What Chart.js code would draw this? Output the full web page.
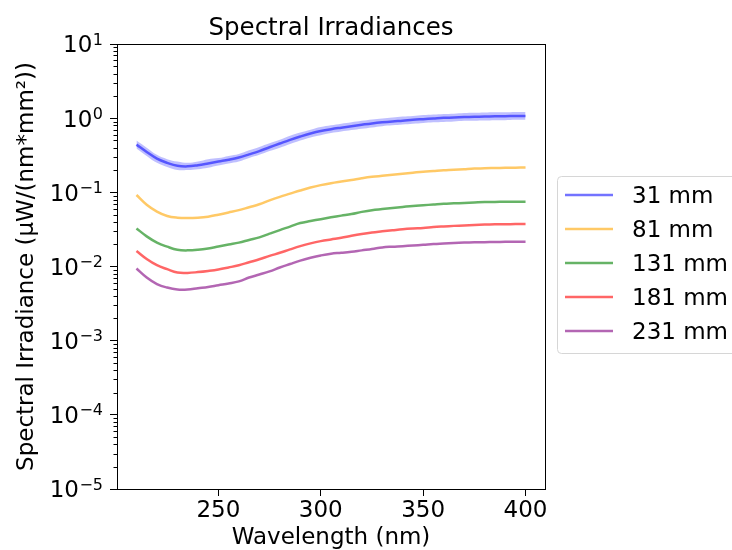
<!DOCTYPE html>
<html>
<head>
<meta charset="utf-8">
<script src="https://cdn.jsdelivr.net/npm/chart.js@4.4.1/dist/chart.umd.min.js"></script>
<style>
  html, body { margin: 0; padding: 0; background: #fff; }
  #wrap { width: 732px; height: 550px; position: relative; }
</style>
</head>
<body>
<div id="wrap"><canvas id="c" width="732" height="550"></canvas></div>
<script>
// ---- data ----
const wavelengths = [210,215,220,225,230,235,240,245,250,255,260,265,270,275,280,285,290,295,300,305,310,315,320,325,330,335,340,345,350,355,360,365,370,375,380,385,390,395,400];

const labels = ['31 mm', '81 mm', '131 mm', '181 mm', '231 mm'];
const chartTitle = 'Spectral Irradiances';

const irr31 = [0.44,0.35,0.285,0.25,0.228,0.224,0.232,0.245,0.26,0.275,0.295,0.325,0.36,0.405,0.455,0.51,0.565,0.62,0.67,0.71,0.745,0.78,0.815,0.85,0.88,0.905,0.925,0.95,0.97,0.99,1.01,1.02,1.035,1.045,1.05,1.06,1.065,1.07,1.07];
const irr31Upper = [0.50,0.40,0.32,0.28,0.26,0.25,0.26,0.28,0.29,0.31,0.33,0.37,0.41,0.46,0.51,0.58,0.64,0.70,0.76,0.80,0.84,0.88,0.92,0.96,0.99,1.02,1.05,1.07,1.10,1.12,1.14,1.15,1.17,1.18,1.19,1.20,1.20,1.21,1.21];
const irr31Lower = [0.39,0.31,0.25,0.22,0.20,0.20,0.205,0.215,0.23,0.245,0.26,0.29,0.32,0.36,0.40,0.45,0.50,0.55,0.59,0.63,0.66,0.69,0.72,0.75,0.78,0.80,0.82,0.84,0.86,0.88,0.89,0.90,0.92,0.925,0.93,0.94,0.94,0.95,0.95];
const irr81 = [0.092,0.068,0.055,0.048,0.0455,0.045,0.0455,0.047,0.050,0.0535,0.0575,0.063,0.069,0.078,0.087,0.096,0.106,0.116,0.125,0.133,0.14,0.147,0.155,0.162,0.167,0.172,0.178,0.184,0.19,0.194,0.198,0.201,0.205,0.209,0.212,0.213,0.214,0.215,0.216];
const irr131 = [0.0326,0.0255,0.021,0.0185,0.0168,0.0165,0.0168,0.0175,0.0186,0.0198,0.021,0.0228,0.0247,0.0277,0.031,0.0345,0.0385,0.041,0.0435,0.046,0.0485,0.051,0.0545,0.0575,0.0595,0.0615,0.0635,0.0655,0.067,0.0685,0.07,0.071,0.072,0.073,0.074,0.0743,0.0745,0.0745,0.0745];
const irr181 = [0.0162,0.0126,0.0104,0.0092,0.0083,0.0082,0.0084,0.0087,0.0091,0.0097,0.0104,0.0114,0.0125,0.0139,0.0153,0.017,0.0188,0.0205,0.022,0.0232,0.0244,0.026,0.0275,0.0288,0.0298,0.0308,0.0318,0.0325,0.033,0.034,0.0347,0.0353,0.0358,0.0363,0.0367,0.037,0.0372,0.0373,0.0373];
const irr231 = [0.0094,0.0071,0.0058,0.0052,0.0049,0.0049,0.0051,0.0053,0.0056,0.0059,0.0063,0.0071,0.0078,0.0086,0.0097,0.0108,0.012,0.0131,0.0141,0.0149,0.0153,0.0158,0.0165,0.0172,0.0181,0.0185,0.0188,0.0192,0.0196,0.0201,0.0204,0.0207,0.021,0.0212,0.0213,0.0214,0.0215,0.0215,0.0215];

const xTickValues = [250, 300, 350, 400];
const yTickExponents = [-5, -4, -3, -2, -1, 0, 1];

// ---- build ----
const FONT = 'DejaVu Sans';
const FS = 23;
const series = [irr31, irr81, irr131, irr181, irr231];
const lineColors = ['rgba(0,0,255,0.55)','rgba(255,165,0,0.6)','rgba(0,128,0,0.6)','rgba(255,0,0,0.6)','rgba(128,0,128,0.6)'];

const pts = arr => arr.map((v, i) => ({x: wavelengths[i], y: v}));

const datasets = [
  { label: '_upper', data: pts(irr31Upper), borderWidth: 0, pointRadius: 0, fill: '+1', backgroundColor: 'rgba(0,0,255,0.25)', tension: 0.4, order: 10 },
  { label: '_lower', data: pts(irr31Lower), borderWidth: 0, pointRadius: 0, fill: false, tension: 0.4, order: 10 },
];
series.forEach((s, i) => {
  datasets.push({ label: labels[i], data: pts(s), borderColor: lineColors[i], borderWidth: 2.5, pointRadius: 0, fill: false, tension: 0.4, order: 5 - i });
});

const decor = {
  id: 'decor',
  afterDraw(chart) {
    const ctx = chart.ctx, a = chart.chartArea, ys = chart.scales.y;
    ctx.save();
    ctx.strokeStyle = '#000';
    ctx.lineWidth = 1;
    ctx.strokeRect(Math.round(a.left) + 0.5, Math.round(a.top) + 0.5, Math.round(a.right - a.left), Math.round(a.bottom - a.top));
    // title centred over the plot area
    ctx.fillStyle = '#000';
    ctx.font = '24.5px "' + FONT + '"';
    ctx.textAlign = 'center';
    ctx.textBaseline = 'alphabetic';
    ctx.fillText(chartTitle, (a.left + a.right) / 2, 34.5);
    // y minor ticks
    ctx.beginPath();
    for (let e = -5; e <= 0; e++) {
      for (let m = 2; m <= 9; m++) {
        const py = Math.round(ys.getPixelForValue(m * Math.pow(10, e))) + 0.5;
        ctx.moveTo(a.left, py);
        ctx.lineTo(a.left - 3.5, py);
      }
    }
    ctx.stroke();
    // y tick labels with superscripts
    yTickExponents.forEach(e => {
      const py = ys.getPixelForValue(Math.pow(10, e));
      const sup = e < 0 ? '\u2212' + (-e) : String(e);
      ctx.font = '16px "' + FONT + '"';
      const supW = ctx.measureText(sup).width;
      const right = 103;
      ctx.textAlign = 'right';
      ctx.fillText(sup, right, py + 0.5);
      ctx.font = FS + 'px "' + FONT + '"';
      ctx.fillText('10', right - supW - 0.5, py + 8.4);
    });
    // legend
    const lx = 557.5, ly = 176.5, lh = 177;
    ctx.strokeStyle = '#d6d6d6';
    ctx.lineWidth = 1;
    ctx.fillStyle = 'rgba(255,255,255,0.8)';
    ctx.beginPath();
    const r = 4, w = 200;
    ctx.moveTo(lx + r, ly); ctx.lineTo(lx + w, ly); ctx.lineTo(lx + w, ly + lh); ctx.lineTo(lx + r, ly + lh);
    ctx.arcTo(lx, ly + lh, lx, ly + lh - r, r); ctx.lineTo(lx, ly + r); ctx.arcTo(lx, ly, lx + r, ly, r);
    ctx.closePath(); ctx.fill(); ctx.stroke();
    ctx.font = FS + 'px "' + FONT + '"';
    ctx.textAlign = 'left';
    const shown = chart.data.datasets.filter(d => !d.label.startsWith('_'));
    shown.forEach((d, i) => {
      const y = 195 + i * 34;
      ctx.strokeStyle = d.borderColor;
      ctx.lineWidth = 2.5;
      ctx.beginPath(); ctx.moveTo(565, y); ctx.lineTo(613, y); ctx.stroke();
      ctx.fillStyle = '#000';
      ctx.fillText(d.label, 632, y + 8.4);
    });
    ctx.restore();
  }
};

new Chart(document.getElementById('c'), {
  type: 'line',
  data: { datasets },
  plugins: [decor],
  options: {
    responsive: false,
    animation: false,
    layout: { padding: { left: 0, right: 187, top: 44, bottom: 0 } },
    plugins: {
      legend: { display: false },
      tooltip: { enabled: false },
      title: { display: false }
    },
    scales: {
      x: {
        type: 'linear', min: 200.5, max: 409.5,
        afterBuildTicks: s => { s.ticks = xTickValues.map(v => ({ value: v })); },
        afterFit: s => { s.height = 61; },
        ticks: { color: '#000', font: { family: FONT, size: FS }, padding: 1, maxRotation: 0, callback: v => String(v) },
        grid: { drawOnChartArea: false, drawTicks: true, tickLength: 7, color: '#000', tickWidth: 1 },
        border: { display: true, color: '#000', width: 1 },
        title: { display: true, text: 'Wavelength (nm)', color: '#000', font: { family: FONT, size: FS, lineHeight: 1 }, padding: { top: 0, bottom: 0 } }
      },
      y: {
        type: 'logarithmic', min: 1e-5, max: 10,
        afterBuildTicks: s => { s.ticks = yTickExponents.map(e => ({ value: Math.pow(10, e) })); },
        afterFit: s => { s.width = 117; },
        ticks: { color: '#000', font: { family: FONT, size: FS }, padding: 4, callback: () => '' },
        grid: { drawOnChartArea: false, drawTicks: true, tickLength: 7, color: '#000', tickWidth: 1 },
        border: { display: true, color: '#000', width: 1 },
        title: { display: true, text: 'Spectral Irradiance (\u03BCW/(nm*mm\u00B2))', color: '#000', font: { family: FONT, size: FS, lineHeight: 1.2 }, padding: { top: 13, bottom: 0 } }
      }
    }
  }
});
</script>
</body>
</html>
